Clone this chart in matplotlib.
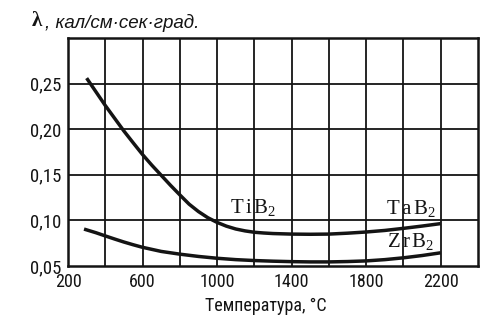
import matplotlib
matplotlib.use("Agg")
import matplotlib.pyplot as plt
from matplotlib import font_manager

# Thermal conductivity of diborides vs temperature
temp_upper = [300, 350, 400, 450, 500, 550, 600, 650, 700, 750, 800, 850, 900, 950,
              1000, 1050, 1100, 1150, 1200, 1250, 1300, 1400, 1500, 1600, 1700, 1800,
              1900, 2000, 2100, 2200]
lam_upper = [0.256, 0.241, 0.226, 0.212, 0.198, 0.185, 0.1722, 0.1605, 0.1495, 0.1385,
             0.128, 0.1178, 0.1097, 0.103, 0.0978, 0.0937, 0.0906, 0.0885, 0.087, 0.0862,
             0.0856, 0.085, 0.0848, 0.085, 0.086, 0.0873, 0.089, 0.0913, 0.0938, 0.0965]

temp_zrb2 = [286, 350, 400, 450, 500, 550, 600, 700, 800, 900, 1000, 1100, 1200, 1300,
             1400, 1500, 1600, 1700, 1800, 1900, 2000, 2100, 2200]
lam_zrb2 = [0.0905, 0.0865, 0.083, 0.0796, 0.0763, 0.0733, 0.0705, 0.066, 0.063, 0.0605,
            0.0585, 0.057, 0.056, 0.0553, 0.0548, 0.0545, 0.0545, 0.0549, 0.0556, 0.057,
            0.059, 0.0615, 0.0645]

x_ticks = [200, 600, 1000, 1400, 1800, 2200]
x_tick_labels = ["200", "600", "1000", "1400", "1800", "2200"]
y_ticks = [0.05, 0.10, 0.15, 0.20, 0.25]
y_tick_labels = ["0,05", "0,10", "0,15", "0,20", "0,25"]

plt.rcParams["mathtext.fontset"] = "custom"
plt.rcParams["mathtext.rm"] = "Liberation Serif"
plt.rcParams["mathtext.it"] = "Liberation Serif:italic"

ink = "#141414"
available = {f.name for f in font_manager.fontManager.ttflist}
tick_font = [f for f in ["Roboto Condensed", "Liberation Sans Narrow", "Liberation Sans"]
             if f in available] + ["DejaVu Sans"]

fig = plt.figure(figsize=(5.0, 3.27), dpi=100)
ax = fig.add_axes([0.136, 0.1865, 0.82, 0.6973])

ax.set_xlim(200, 2400)
ax.set_ylim(0.05, 0.30)

# full grid every 200 °C and 0.05
for gx in range(400, 2400, 200):
    ax.axvline(gx, color=ink, lw=1.3, zorder=1)
for gy in [0.10, 0.15, 0.20, 0.25]:
    ax.axhline(gy, color=ink, lw=1.3, zorder=1)

ax.plot(temp_upper, lam_upper, color=ink, lw=2.5, solid_capstyle="butt",
        solid_joinstyle="round", zorder=3)
ax.plot(temp_zrb2, lam_zrb2, color=ink, lw=2.5, solid_capstyle="butt",
        solid_joinstyle="round", zorder=3)

for s in ax.spines.values():
    s.set_linewidth(1.8)
    s.set_color(ink)

ax.set_xticks(x_ticks)
ax.set_xticklabels(x_tick_labels, family=tick_font, fontsize=13, color=ink)
ax.set_yticks(y_ticks)
ax.set_yticklabels(y_tick_labels, family=tick_font, fontsize=13.5, color=ink)
ax.tick_params(length=0, pad=5)

lab_kw = dict(fontsize=15, color=ink, va="baseline", ha="left", zorder=4)
ax.text(1070, 0.1085, r"$\mathrm{T\,i\,B_2}$", **lab_kw)
ax.text(1905, 0.1075, r"$\mathrm{T\,a\,B_2}$", **lab_kw)
ax.text(1910, 0.0705, r"$\mathrm{Z\,r\,B_2}$", **lab_kw)

fig.text(0.064, 0.935, "λ", fontsize=15, color=ink, family="Liberation Serif",
         weight="bold", va="center", ha="left")
fig.text(0.09, 0.93, ", кал/см·сек·град.", fontsize=13.5, color=ink,
         family=["Liberation Sans", "DejaVu Sans"], style="italic",
         va="center", ha="left")

fig.text(0.532, 0.065, "Температура, °С", fontsize=13, color=ink,
         family=tick_font, ha="center", va="center")

fig.savefig("out.png", dpi=100, facecolor="white")
